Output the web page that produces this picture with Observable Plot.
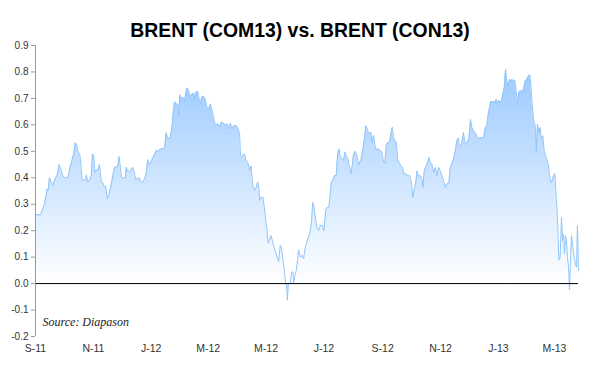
<!DOCTYPE html>
<html>
<head>
<meta charset="utf-8">
<script src="https://cdn.jsdelivr.net/npm/d3@7"></script>
<script src="https://cdn.jsdelivr.net/npm/@observablehq/plot@0.6"></script>
<style>
  body { margin: 0; background: #fff; font-family: Arial, "Liberation Sans", sans-serif; }
  #title { height: 40px; box-sizing: border-box; padding-top: 21px; font-size: 19.4px; line-height: 19px;
           font-weight: bold; text-align: center; color: #000; white-space: nowrap; }
  #chart svg { display: block; }
</style>
</head>
<body>
<div id="title">BRENT (COM13) vs. BRENT (CON13)</div>
<div id="chart"></div>
<script>
// Spread COM13 - CON13: [days since 1 Sep 2011, value]
const spread = [
  [0,0.26],[5.3,0.26],[7.0,0.277],[9.4,0.30],[12.3,0.358],[13.3,0.352],[14.7,0.40],[16.5,0.384],[18.3,0.371],[20.0,0.39],
  [22.8,0.41],[25.0,0.45],[27.0,0.428],[29.1,0.405],[31.5,0.40],[34.1,0.40],[36.1,0.434],[38.6,0.468],[40.4,0.493],[41.8,0.532],
  [43.2,0.528],[44.9,0.497],[46.7,0.49],[48.1,0.44],[49.1,0.392],[52.6,0.392],[53.7,0.411],[55.1,0.384],[57.2,0.392],[58.9,0.41],
  [60.0,0.49],[61.4,0.484],[62.5,0.42],[63.9,0.428],[66.0,0.43],[67.4,0.45],[68.5,0.415],[69.5,0.384],[71.2,0.38],[72.6,0.365],
  [74.0,0.369],[75.5,0.32],[77.6,0.34],[80.0,0.377],[81.8,0.415],[83.5,0.44],[86.7,0.443],[88.1,0.48],[89.5,0.44],
  [90.6,0.40],[93.1,0.40],[94.8,0.40],[95.5,0.44],[97.2,0.425],[99.0,0.425],[101.1,0.431],[102.5,0.44],[104.3,0.419],[105.6,0.394],
  [107.8,0.397],[109.6,0.40],[111.3,0.381],[113.0,0.384],[114.8,0.394],[116.6,0.413],[118.3,0.469],[119.7,0.448],[121.9,0.46],[123.6,0.475],
  [125.3,0.488],[127.4,0.503],[129.2,0.50],[131.0,0.507],[133.4,0.51],[136.2,0.513],[137.6,0.57],[139.4,0.55],[142.2,0.55],[144.0,0.595],
  [145.3,0.651],[146.7,0.687],[148.5,0.679],[149.9,0.677],[151.0,0.639],[152.0,0.714],[153.8,0.70],[155.5,0.704],[157.0,0.687],[158.3,0.717],
  [159.7,0.74],[161.5,0.727],[163.3,0.708],[164.7,0.714],[166.1,0.72],[167.4,0.696],[168.5,0.72],[171.0,0.727],[172.4,0.70],[173.8,0.677],
  [175.2,0.704],[177.3,0.708],[179.1,0.696],[180.8,0.664],[182.5,0.658],[184.3,0.679],[186.4,0.651],
  [189.6,0.597],[192.1,0.604],[194.1,0.591],[196.0,0.61],[198.4,0.606],[200.1,0.597],[201.9,0.604],[203.7,0.585],[205.4,0.606],[207.1,0.585],
  [209.0,0.597],[211.7,0.597],[213.5,0.585],[215.2,0.566],[216.0,0.49],[217.0,0.478],[218.8,0.484],[220.5,0.49],[221.5,0.468],[223.7,0.459],
  [225.8,0.428],[227.2,0.445],[228.2,0.40],[229.2,0.371],[230.7,0.352],[232.8,0.365],[234.2,0.384],[235.6,0.358],[236.3,0.314],[237.7,0.325],
  [239.8,0.327],[241.2,0.289],[242.6,0.245],[244.1,0.20],[245.1,0.153],[246.5,0.164],[248.2,0.182],[249.6,0.164],[251.1,0.141],[253.2,0.12],
  [254.6,0.10],[256.3,0.082],[258.1,0.145],[259.5,0.132],[260.9,0.088],[262.3,0.05],[263.6,0.003],[264.7,0.0],[265.5,-0.063],[266.5,0.0],
  [268.6,0.0],[270.0,0.044],[271.4,0.044],[272.1,0.003],[273.5,0.031],[274.9,0.05],[276.3,0.09],[277.3,0.128],[279.2,0.10],
  [280.9,0.107],[282.7,0.094],[283.8,0.126],[285.5,0.151],[287.2,0.17],[289.0,0.189],[290.8,0.226],[292.2,0.308],[293.5,0.289],[294.9,0.252],
  [296.8,0.208],[298.5,0.20],[300.2,0.22],[302.3,0.22],[304.1,0.20],[305.9,0.277],[307.2,0.287],[309.3,0.289],[310.8,0.34],[311.8,0.384],
  [313.2,0.39],[315.3,0.409],[317.0,0.409],[318.5,0.49],[319.9,0.509],[321.3,0.478],[323.4,0.472],[324.8,0.465],[326.2,0.497],[327.6,0.484],
  [329.3,0.472],[330.7,0.447],[332.6,0.415],[333.9,0.447],[335.3,0.49],[337.1,0.50],[338.9,0.484],[340.3,0.447],[341.7,0.459],[343.4,0.472],
  [345.1,0.509],[346.9,0.553],[348.3,0.597],[350.1,0.579],[351.8,0.566],[353.6,0.572],[354.7,0.535],[356.4,0.56],[357.8,0.522],[359.2,0.506],
  [361.3,0.509],[363.4,0.503],[365.1,0.497],[367.0,0.459],[368.3,0.453],[369.7,0.522],[371.1,0.532],[373.2,0.535],[374.7,0.566],[376.1,0.591],
  [377.4,0.553],[378.6,0.54],[380.3,0.536],[381.7,0.47],[383.4,0.458],[385.2,0.445],[387.0,0.439],[388.4,0.414],[390.4,0.414],[392.6,0.408],
  [394.3,0.408],[396.1,0.389],[397.8,0.326],[399.3,0.357],[400.7,0.376],[402.1,0.426],[403.8,0.408],[405.6,0.408],[407.3,0.395],[408.4,0.364],
  [409.8,0.426],[411.5,0.442],[413.3,0.458],[414.7,0.477],[416.1,0.458],[417.8,0.452],[419.7,0.42],[421.4,0.439],[423.1,0.408],[424.9,0.439],
  [426.7,0.426],[428.4,0.408],[430.1,0.389],[431.9,0.364],[433.7,0.376],[435.8,0.382],[437.2,0.439],[438.9,0.452],[440.7,0.47],[442.5,0.502],
  [444.2,0.54],[445.6,0.55],[447.0,0.521],[449.1,0.521],[451.2,0.571],[452.9,0.527],[454.8,0.533],[456.8,0.546],[458.6,0.621],[460.0,0.59],
  [461.8,0.577],[463.5,0.571],[465.2,0.558],[467.0,0.546],[468.8,0.552],
  [470.5,0.55],[472.3,0.552],[474.1,0.59],[475.8,0.596],[477.2,0.64],[478.6,0.665],[480.1,0.69],[481.5,0.684],[482.8,0.69],[484.2,0.684],
  [485.6,0.697],[487.1,0.684],[488.5,0.693],[489.9,0.684],[491.2,0.69],[492.6,0.716],[494.1,0.741],[495.5,0.81],[496.9,0.766],[498.3,0.747],
  [499.7,0.772],[501.1,0.766],[502.5,0.772],[503.9,0.766],[505.3,0.769],[506.7,0.728],[508.1,0.68],[509.5,0.722],[510.9,0.728],[513.0,0.728],
  [514.5,0.735],[516.2,0.766],[517.9,0.772],[519.7,0.785],[521.2,0.789],[522.2,0.747],[523.6,0.678],[525.0,0.621],[526.8,0.596],[527.8,0.496],
  [529.2,0.603],[530.6,0.571],[532.0,0.59],[533.4,0.546],[534.8,0.558],[536.2,0.502],[537.6,0.483],[539.0,0.47],[540.5,0.452],[541.9,0.408],
  [543.3,0.382],[544.6,0.389],[546.0,0.408],[547.5,0.416],[548.2,0.37],[549.6,0.288],[550.6,0.212],[551.7,0.089],[553.0,0.099],[554.5,0.25],
  [555.6,0.162],[556.6,0.187],[557.6,0.112],[558.7,0.181],[559.7,0.162],[560.8,0.099],[561.9,0.062],[562.9,-0.024],[564.0,0.087],[565.0,0.181],
  [566.4,0.137],[567.9,0.099],[569.2,0.074],[570.3,0.062],[571.3,0.219],[572.4,0.05]
];
const startDate = "2011-09-01";
const tickDates = ["2011-09-01","2011-11-01","2012-01-01","2012-03-01","2012-05-01","2012-07-01","2012-09-01","2012-11-01","2013-01-01","2013-03-01"];
const tickLabels = ["S-11","N-11","J-12","M-12","M-12","J-12","S-12","N-12","J-13","M-13"];
const yTicks = [-0.2,-0.1,0,0.1,0.2,0.3,0.4,0.5,0.6,0.7,0.8,0.9];
const sourceText = "Source: Diapason";

const t0 = new Date(startDate).getTime();
const toDate = d => new Date(t0 + d * 864e5);
const data = spread.map(([d, v]) => ({date: toDate(d), value: v}));
const ticks = tickDates.map((d, i) => ({date: new Date(d), label: tickLabels[i]}));

const chart = Plot.plot({
  width: 600,
  height: 328,
  marginLeft: 35,
  marginRight: 22,
  marginTop: 5,
  marginBottom: 32,
  style: {fontFamily: "Arial, 'Liberation Sans', sans-serif", background: "#fff", overflow: "visible"},
  x: {type: "utc", domain: [data[0].date, data[data.length - 1].date], axis: null},
  y: {domain: [-0.2, 0.9], axis: null},
  marks: [
    Plot.areaY(data, {x: "date", y: "value", fill: "url(#spreadFill)"}),
    Plot.lineY(data, {x: "date", y: "value", stroke: "#92c5f8", strokeWidth: 1}),
    Plot.ruleY([0], {stroke: "#000", strokeWidth: 1}),
    Plot.ruleX([data[0].date], {y1: -0.2, y2: 0.9, stroke: "#999"}),
    Plot.axisY(yTicks, {anchor: "left", tickSize: 4, tickPadding: 3, stroke: "#999", fill: "#333", fontSize: 10,
                        tickFormat: d => d.toFixed(1), label: null}),
    Plot.text(ticks, {x: "date", text: "label", frameAnchor: "bottom", dy: 15, fill: "#333", fontSize: 10.5}),
    Plot.text([sourceText], {frameAnchor: "bottom-left", dx: 7, dy: -11, textAnchor: "start", fontStyle: "italic",
                             fontFamily: "'Liberation Serif', 'Times New Roman', serif", fontSize: 12, fill: "#222"})
  ]
});

const ys = chart.scale("y");
const ns = "http://www.w3.org/2000/svg";
const defs = document.createElementNS(ns, "defs");
const grad = document.createElementNS(ns, "linearGradient");
grad.setAttribute("id", "spreadFill");
grad.setAttribute("gradientUnits", "userSpaceOnUse");
grad.setAttribute("x1", 0); grad.setAttribute("x2", 0);
grad.setAttribute("y1", ys.apply(0.8)); grad.setAttribute("y2", ys.apply(0));
[["0", "#9ccaff"], ["1", "#ffffff"]].forEach(([o, c]) => {
  const s = document.createElementNS(ns, "stop");
  s.setAttribute("offset", o); s.setAttribute("stop-color", c);
  grad.appendChild(s);
});
defs.appendChild(grad);
chart.insertBefore(defs, chart.firstChild);
document.getElementById("chart").appendChild(chart);
</script>
</body>
</html>
